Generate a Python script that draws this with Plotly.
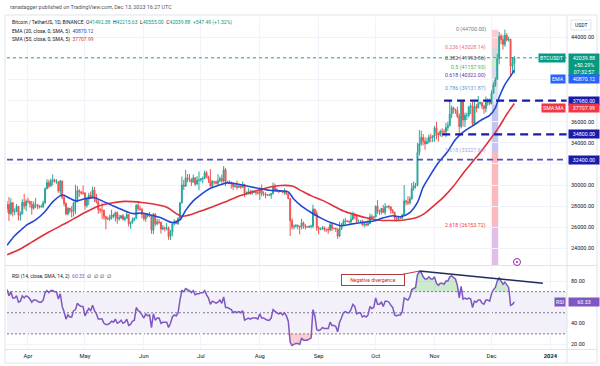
import numpy as np
import pandas as pd
import plotly.graph_objects as go

W, H = 600, 366

# ---------------- data ----------------
dates = pd.date_range("2023-03-21", "2023-12-13", freq="D")

opens = (
    [27770,28170,27300,28330,27470,27490,27990,27130,27260,28350,28030] +
    [28470,28450,28200,27800,28170,28170,28030,27920,27950,28330,29650,30230,29890,30390,30480,30310,30320,29430,30390,28820,28250,27270,27820,27590,27510,28300,28420,29470,29340,29250] +
    [29230,28070,28670,29030,28840,29530,28900,28430,27660,27630,27620,26990,26800,26780,26930,27170,27030,27400,26820,26880,27100,26750,26850,27220,26330,26480,26720,26870,28080,27740,27700] +
    [27210,26820,27250,27070,27120,25730,27230,26340,26500,26480,25840,25940,25900,25920,25120,25580,26330,26510,26340,26840,28310,30000,29890,30690,30550,30470,30270,30690,30080,30450] +
    [30470,30590,30620,31160,30770,30510,29900,30350,30290,30170,30410,30620,30380,31450,30310,30290,30230,30140,29860,29910,29800,29900,29790,30080,29180,29230,29350,29210,29310,29350,29280] +
    [29230,29700,29170,29180,29070,29040,29040,29180,29770,29560,29430,29400,29420,29280,29400,29170,28700,26620,26050,26100,26190,26120,26040,26430,26160,26060,26000,26090,26100,27720,27300] +
    [25940,25800,25870,25970,25810,25790,25750,26240,25900,25900,25840,25160,25840,26220,26530,26600,26570,26530,26760,27210,27130,26570,26580,26580,26250,26300,26220,26350,27030,26910] +
    [26970,27990,27500,27430,27790,27410,27930,27960,27920,27590,27390,26870,26760,26860,26850,27150,28500,28400,28320,28710,29680,29920,29990,33090,33900,34500,34150,33900,34090,34530,34490] +
    [34640,35420,34940,34730,35080,35050,35040,35420,35620,36700,37310,37130,37060,36500,35540,37880,36160,36590,36590,37390,37470,35810,37420,37290,37720,37800,37450,37240,37830,37860] +
    [37710,38690,39470,39980,41980,44080,43770,43290,44170,43720,43790,41240,41492.38]
)
highs = (
    [28480,28870,28750,28400,27800,28200,27990,27500,28650,29170,28650] +
    [28800,28530,28490,28440,28770,28190,28100,28170,28530,29770,30550,30490,30620,31000,30600,30550,30320,30480,30410,29090,28370,27880,27820,28000,28400,30020,29890,29600,29450,29960] +
    [29340,28880,29270,29380,29850,29820,29170,28650,27830,28320,27630,27090,27030,27200,27660,27300,27480,27490,27180,27150,27270,27050,27500,27220,26540,26930,26900,28200,28450,28050,27840] +
    [27350,27300,27340,27460,27130,27360,27360,26800,26780,26530,26200,26090,26430,26080,25750,26480,26770,26690,26960,28400,30800,30500,31430,31040,31040,30660,31000,30700,30840,31280] +
    [30660,30800,31380,31330,30880,31500,30450,30380,30440,31040,30800,30990,31800,31630,30390,30460,30340,30240,30190,30410,30060,29990,30350,30100,29380,29690,29580,29530,29410,29450,29530] +
    [29740,30050,29410,29320,29110,29170,29250,30240,30140,29700,29530,29470,29460,29680,29480,29220,28780,26840,26260,26290,26260,26130,26810,26560,26300,26100,26180,26250,28140,27760,27580] +
    [26130,25980,26120,26100,25880,26030,26440,26430,25940,25980,25880,26540,26400,26780,26890,26670,26630,27410,27490,27380,27160,26740,26630,26730,26430,26390,26840,27300,27230,27090] +
    [28070,28580,27670,27830,28120,28290,28000,28110,27990,27730,27480,26940,27100,26960,27290,30000,28610,28940,28930,30200,30340,30200,34000,35200,35130,34830,34500,34480,34770,34850,34720] +
    [35580,35980,34950,35260,35380,35290,35890,35980,37970,37530,37400,37220,37420,36770,37980,37930,36850,36850,37510,37750,37860,37860,37650,38420,37890,37830,37590,38380,38200,38170] +
    [38960,39700,40200,42420,44490,44300,44180,44700,44370,44040,43800,42100,42215.63]
)
lows = (
    [27380,26600,27150,27020,27160,27440,26650,26630,27250,27720,27530] +
    [28240,27870,27200,27660,27820,27710,27770,27880,27800,28170,29600,29690,29860,29970,30230,30130,29270,29100,28650,28010,27130,27130,27340,26940,27020,27250,28380,28880,29090,29090] +
    [27660,27870,28110,28680,28800,28380,28260,27280,27350,26780,26700,25810,26700,26600,26730,26850,26550,26350,26620,26810,26660,26550,26820,26080,25870,26340,26580,26800,27560,27570,26840] +
    [26610,26510,26920,26960,25390,25350,26120,26210,26290,25400,25720,25600,25710,24820,24800,25170,26170,26310,26250,26660,28260,29530,29810,30250,30300,29920,30230,29900,30050,29500] +
    [30320,30160,30560,30640,30200,29850,29700,30050,30070,29950,30270,30200,30250,29900,30250,30070,29660,29500,29760,29560,29720,29640,29730,28860,29030,29100,29070,29100,29250,29030,29100] +
    [28590,28920,28960,28750,28960,28960,28700,29110,29360,29330,29230,29360,29250,29100,29050,28700,25170,25800,25800,25970,25810,25350,25800,25860,25780,25970,25960,25880,25920,27050,25660] +
    [25330,25720,25770,25600,25560,25380,25610,25650,25800,25560,24900,25130,25760,26130,26230,26480,26400,26390,26670,26800,26360,26520,26500,26130,26000,26090,26120,26340,26660,26890] +
    [26950,27280,27160,27220,27350,27180,27840,27690,27260,27300,26560,26540,26690,26810,26800,27110,28100,28110,28170,28600,29470,29680,29880,32800,33700,33750,33330,33870,33940,34060,34070] +
    [34100,34320,34100,34580,34530,34730,34520,35120,35540,36330,36770,36730,36340,34800,35360,35530,35500,36150,36390,36700,35630,35670,36870,37250,37600,37150,36750,36870,37500,37550] +
    [37630,38650,39280,39980,41420,43340,42820,43080,43580,43560,40220,40680,40555.00]
)
closes = (
    [28170,27300,28330,27470,27490,27990,27130,27260,28350,28030,28470] +
    [28450,28200,27800,28170,28170,28030,27920,27950,28330,29650,30230,29890,30390,30480,30310,30320,29430,30390,28820,28250,27270,27820,27590,27510,28300,28420,29470,29340,29250,29230] +
    [28070,28670,29030,28840,29530,28900,28430,27660,27630,27620,26990,26800,26780,26930,27170,27030,27400,26820,26880,27100,26750,26850,27220,26330,26480,26720,26870,28080,27740,27700,27210] +
    [26820,27250,27070,27120,25730,27230,26340,26500,26480,25840,25940,25900,25920,25120,25580,26330,26510,26340,26840,28310,30000,29890,30690,30550,30470,30270,30690,30080,30450,30470] +
    [30590,30620,31160,30770,30510,29900,30350,30290,30170,30410,30620,30380,31450,30310,30290,30230,30140,29860,29910,29800,29900,29790,30080,29180,29230,29350,29210,29310,29350,29280,29230] +
    [29700,29170,29180,29070,29040,29040,29180,29770,29560,29430,29400,29420,29280,29400,29170,28700,26620,26050,26100,26190,26120,26040,26430,26160,26060,26000,26090,26100,27720,27300,25940] +
    [25800,25870,25970,25810,25790,25750,26240,25900,25900,25840,25160,25840,26220,26530,26600,26570,26530,26760,27210,27130,26570,26580,26580,26250,26300,26220,26350,27030,26910,26970] +
    [27990,27500,27430,27790,27410,27930,27960,27920,27590,27390,26870,26760,26860,26850,27150,28500,28400,28320,28710,29680,29920,29990,33090,33900,34500,34150,33900,34090,34530,34490,34640] +
    [35420,34940,34730,35080,35050,35040,35420,35620,36700,37310,37130,37060,36500,35540,37880,36160,36590,36590,37390,37470,35810,37420,37290,37720,37800,37450,37240,37830,37860,37710] +
    [38690,39470,39980,41980,44080,43770,43290,44170,43720,43790,41240,41490,42039.88]
)

rsi = (
    [72,66,70,64,64,66,60,61,66,64,66] +
    [65,63,60,62,62,61,60,60,62,69,71,69,71,71,70,70,63,68,56,51,44,48,46,46,52,53,59,57,56,56] +
    [47,51,54,52,57,52,49,44,44,44,40,39,39,40,42,41,44,40,41,43,40,41,44,38,39,42,43,55,52,51,48] +
    [45,49,47,48,36,49,43,45,45,40,41,41,41,36,40,46,48,47,50,62,71,70,73,72,71,69,71,67,68,68] +
    [69,69,71,67,64,58,61,60,59,60,62,59,65,55,55,54,53,50,51,50,51,50,52,43,44,45,44,45,45,45,44] +
    [49,45,45,44,43,43,45,53,51,50,49,50,48,50,47,42,22,19,20,21,21,20,26,24,24,24,25,26,53,47,34] +
    [33,34,36,35,35,35,41,38,38,37,32,41,45,50,51,50,50,53,58,56,49,50,50,46,47,46,48,56,54,55] +
    [64,58,58,60,56,61,61,60,57,55,48,47,48,48,51,64,63,62,65,72,73,74,86,89,88,84,82,82,84,82,82] +
    [84,78,76,78,78,77,80,80,84,85,83,82,76,64,75,63,64,63,64,63,55,61,60,62,62,59,58,62,62,61] +
    [68,72,74,80,83,80,77,79,76,74,57,58,60.33]
)

ema_dates = ["2023-03-21","2023-03-25","2023-03-28","2023-04-01","2023-04-05","2023-04-10","2023-04-14",
             "2023-04-19","2023-04-23","2023-04-26","2023-05-01","2023-05-06","2023-05-10","2023-05-15",
             "2023-05-20","2023-05-26","2023-05-31","2023-06-05","2023-06-10","2023-06-16","2023-06-20",
             "2023-06-23","2023-06-27","2023-07-01","2023-07-06","2023-07-10","2023-07-15","2023-07-20",
             "2023-07-24","2023-07-31","2023-08-06","2023-08-12","2023-08-16","2023-08-19","2023-08-23",
             "2023-08-28","2023-09-03","2023-09-08","2023-09-13","2023-09-18","2023-09-24","2023-09-30",
             "2023-10-05","2023-10-10","2023-10-14","2023-10-19","2023-10-23","2023-10-26","2023-10-30",
             "2023-11-03","2023-11-08","2023-11-12","2023-11-16","2023-11-21","2023-11-26","2023-11-30",
             "2023-12-03","2023-12-05","2023-12-08","2023-12-11","2023-12-13"]
ema_vals = [24300,25200,25700,26300,26700,27500,28400,
            29050,28750,28500,28700,28800,28500,28100,
            27700,27300,27350,27150,26900,26450,26700,
            27600,28500,29100,29700,29950,30200,30100,
            29950,29700,29500,29450,29350,28650,28000,
            27400,26800,26400,26150,26300,26450,26600,
            26900,27100,27000,27400,28350,29800,31000,
            32100,33200,34300,35000,35600,36200,36600,
            37300,38300,39500,40300,40870.12]

sma_dates = ["2023-03-21","2023-03-28","2023-04-03","2023-04-12","2023-04-22","2023-05-01","2023-05-08",
             "2023-05-15","2023-05-22","2023-05-31","2023-06-06","2023-06-13","2023-06-21","2023-07-01",
             "2023-07-08","2023-07-15","2023-07-22","2023-07-29","2023-08-05","2023-08-12","2023-08-18",
             "2023-08-23","2023-08-28","2023-09-03","2023-09-09","2023-09-14","2023-09-20","2023-09-26",
             "2023-10-02","2023-10-09","2023-10-16","2023-10-23","2023-10-27","2023-11-01","2023-11-06",
             "2023-11-11","2023-11-16","2023-11-21","2023-11-26","2023-12-01","2023-12-05","2023-12-09",
             "2023-12-13"]
sma_vals = [23400,23950,24600,25550,26500,27400,28000,
            28300,28450,28350,28200,27900,27050,27550,
            28000,28500,29000,29400,29750,29950,29900,
            29450,29000,28550,28000,27550,27200,26900,
            26700,26650,26700,26950,27350,28100,28900,
            29900,31100,32200,33300,34500,35500,36700,
            37707.99]

# horizontal support/resistance rays
level_prices = [37980, 34800, 32400]
level_starts = ["2023-11-06", "2023-11-05", "2023-03-20 23:00"]
level_labels = ["37980.00", "34800.00", "32400.00"]

# fibonacci retracement
fib_ratios = ["0", "0.236", "0.382", "0.5", "0.618", "0.786", "1", "1.618", "2.618", "3.618"]
fib_prices = [44700.00, 43028.14, 41993.86, 41157.93, 40322.00, 39131.87, 37615.86, 33227.60, 26153.72, 19069.00]
fib_x = ["2023-11-30 16:00", "2023-12-04 12:00"]

# RSI divergence trend line
div_x = ["2023-10-24", "2023-12-28"]
div_y = [89.5, 78.0]

month_ticks = ["2023-04-01","2023-05-01","2023-06-01","2023-07-01","2023-08-01","2023-09-01",
               "2023-10-01","2023-11-01","2023-12-01","2024-01-01"]
month_labels = ["Apr","May","Jun","Jul","Aug","Sep","Oct","Nov","Dec","<b>2024</b>"]
price_ticks = [24000,26000,28000,30000,32000,34000,36000,38000,40000,42000,44000]
price_tick_labels = ["24000.00","26000.00","28000.00","30000.00","","34000.00","36000.00","","","","44000.00"]
rsi_ticks = [20, 40, 60, 80]
rsi_tick_labels = ["20.00", "40.00", "", "80.00"]

# ---------------- styling ----------------
UP, DN = "#26a69a", "#ef5350"
EMA_C, SMA_C = "#2148d0", "#e0313b"
RSI_C = "#7e57c2"
NAVY = "#1b1bab"
FONT = "Roboto, Liberation Sans, Arial"
TXT = "#131722"
GRID = "#f0f3fa"

X_RANGE = ["2023-03-20 23:00", "2024-01-09 17:00"]
P_RANGE = [22388, 45896]
R_RANGE = [15.2, 94.3]

def xp(p):
    return p / W

def yp(p):
    return 1 - p / H

PL, PR = 7, 567          # plot area left/right in px
fig = go.Figure()

# ---- price pane ----
fig.add_trace(go.Candlestick(
    x=dates, open=opens, high=highs, low=lows, close=closes,
    increasing=dict(line=dict(color=UP, width=1), fillcolor=UP),
    decreasing=dict(line=dict(color=DN, width=1), fillcolor=DN),
    whiskerwidth=0, showlegend=False, hoverinfo="skip", xaxis="x", yaxis="y"))

fig.add_trace(go.Scatter(x=sma_dates, y=sma_vals, mode="lines",
                         line=dict(color=SMA_C, width=1.6, shape="spline", smoothing=0.8),
                         showlegend=False, hoverinfo="skip", xaxis="x", yaxis="y"))
fig.add_trace(go.Scatter(x=ema_dates, y=ema_vals, mode="lines",
                         line=dict(color=EMA_C, width=1.6, shape="spline", smoothing=0.8),
                         showlegend=False, hoverinfo="skip", xaxis="x", yaxis="y"))

# ---- RSI pane ----
rsi_arr = np.array(rsi, dtype=float)
fig.add_trace(go.Scatter(x=dates, y=[70] * len(dates), mode="lines", line=dict(width=0),
                         showlegend=False, hoverinfo="skip", xaxis="x2", yaxis="y2"))
fig.add_trace(go.Scatter(x=dates, y=np.maximum(rsi_arr, 70), mode="lines", line=dict(width=0),
                         fill="tonexty", fillcolor="rgba(76,175,80,0.28)",
                         showlegend=False, hoverinfo="skip", xaxis="x2", yaxis="y2"))
fig.add_trace(go.Scatter(x=dates, y=[30] * len(dates), mode="lines", line=dict(width=0),
                         showlegend=False, hoverinfo="skip", xaxis="x2", yaxis="y2"))
fig.add_trace(go.Scatter(x=dates, y=np.minimum(rsi_arr, 30), mode="lines", line=dict(width=0),
                         fill="tonexty", fillcolor="rgba(242,54,69,0.25)",
                         showlegend=False, hoverinfo="skip", xaxis="x2", yaxis="y2"))
fig.add_trace(go.Scatter(x=dates, y=rsi_arr, mode="lines", line=dict(color=RSI_C, width=1.5),
                         showlegend=False, hoverinfo="skip", xaxis="x2", yaxis="y2"))
fig.add_trace(go.Scatter(x=div_x, y=div_y, mode="lines", line=dict(color="#1e2d5c", width=1.5),
                         showlegend=False, hoverinfo="skip", xaxis="x2", yaxis="y2"))

shapes = []
# RSI band and guide lines
shapes.append(dict(type="rect", xref="x2 domain", yref="y2", x0=0, x1=1, y0=30, y1=70,
                   fillcolor="rgba(126,87,194,0.09)", line=dict(width=0), layer="below"))
for lv in (70, 50, 30):
    shapes.append(dict(type="line", xref="x2 domain", yref="y2", x0=0, x1=1, y0=lv, y1=lv,
                       line=dict(color="#787b86", width=1, dash="2px,2px"), layer="below"))

# fib boxes
fib_fill = ["rgba(242,54,69,0.25)", "rgba(120,123,134,0.30)", "rgba(76,175,80,0.28)",
            "rgba(120,90,200,0.25)", "rgba(120,123,134,0.25)", "rgba(100,150,220,0.25)",
            "rgba(80,90,220,0.35)", "rgba(242,54,69,0.35)", "rgba(156,39,176,0.30)"]
for i in range(len(fib_prices) - 1):
    shapes.append(dict(type="rect", xref="x", yref="y", x0=fib_x[0], x1=fib_x[1],
                       y0=fib_prices[i], y1=fib_prices[i + 1], fillcolor=fib_fill[i],
                       line=dict(width=0), layer="below"))

# current price dotted line
shapes.append(dict(type="line", xref="x domain", yref="y", x0=0, x1=1, y0=closes[-1], y1=closes[-1],
                   line=dict(color="#26a69a", width=1, dash="dot")))
# horizontal rays
for lp, ls in zip(level_prices, level_starts):
    is_full = lp == 32400
    shapes.append(dict(type="line", xref="x", yref="y", x0=ls, x1=X_RANGE[1], y0=lp, y1=lp,
                       line=dict(color="#5252bd" if is_full else NAVY, width=1.6 if is_full else 2.2,
                                 dash="6px,4px" if is_full else "8px,5px")))

# frame lines
frame = "#e0e3eb"
shapes.append(dict(type="rect", xref="paper", yref="paper", x0=xp(5), x1=xp(597), y0=yp(363), y1=yp(15),
                   line=dict(color=frame, width=1)))
shapes.append(dict(type="line", xref="paper", yref="paper", x0=xp(PR), x1=xp(PR), y0=yp(363), y1=yp(15),
                   line=dict(color=frame, width=1)))
shapes.append(dict(type="line", xref="paper", yref="paper", x0=xp(5), x1=xp(597), y0=yp(265.5), y1=yp(265.5),
                   line=dict(color=frame, width=1)))
shapes.append(dict(type="line", xref="paper", yref="paper", x0=xp(5), x1=xp(597), y0=yp(349.5), y1=yp(349.5),
                   line=dict(color=frame, width=1)))
# target icon
shapes.append(dict(type="circle", xref="paper", yref="paper", x0=xp(513.5), x1=xp(520.5), y0=yp(265.5), y1=yp(258.5),
                   line=dict(color="#9c27b0", width=1)))
shapes.append(dict(type="circle", xref="paper", yref="paper", x0=xp(516), x1=xp(518), y0=yp(263), y1=yp(261),
                   fillcolor="#9c27b0", line=dict(width=0)))
# USDT box
shapes.append(dict(type="rect", xref="paper", yref="paper", x0=xp(571), x1=xp(591), y0=yp(30), y1=yp(20),
                   line=dict(color=frame, width=1)))

ann = []

def text(x, y, t, size=5.5, color=TXT, xanchor="left", **kw):
    ann.append(dict(xref="paper", yref="paper", x=xp(x), y=yp(y), text=t, showarrow=False,
                    xanchor=xanchor, yanchor="middle", font=dict(size=size, color=color, family=FONT), **kw))

text(8, 7, "ranadagger published on TradingView.com, Dec 13, 2023 16:27 UTC", size=5.4, color="#50535e")
g = "#089981"
text(10, 23, ("Bitcoin / TetherUS, 1D, BINANCE  O<span style='color:%s'>%.2f</span>  H<span style='color:%s'>%.2f</span>"
              "  L<span style='color:%s'>%.2f</span>  C<span style='color:%s'>%.2f</span>  <span style='color:%s'>+547.49 (+1.32%%)</span>")
     % (g, opens[-1], g, highs[-1], g, lows[-1], g, closes[-1], g), size=5)
text(10, 31.5, "EMA (20, close, 0, SMA, 5)  <span style='color:%s'>%.2f</span>" % (EMA_C, ema_vals[-1]), size=5)
text(10, 39.5, "SMA (50, close, 0, SMA, 5)  <span style='color:%s'>%.2f</span>" % (SMA_C, sma_vals[-1]), size=5)
text(10, 276, "RSI (14, close, SMA, 14, 2)  <span style='color:%s'>%.2f</span>  ∅  ∅  ∅  ∅" % (RSI_C, rsi[-1]), size=5)
text(581, 25, "USDT", size=5, xanchor="center")

# fib labels
fib_label_col = ["#787b86", "#e57373", "#50535e", "#4caf50", "#5e35b1", "#5b9bd5", None, "#9fa8da", "#f23645", None]
for r, p, c in zip(fib_ratios, fib_prices, fib_label_col):
    if c is None:
        continue
    ann.append(dict(xref="x", yref="y", x=fib_x[0], y=p, text="%s (%.2f)" % (r, p), showarrow=False,
                    xanchor="right", yanchor="middle", xshift=-3, font=dict(size=5.3, color=c, family=FONT)))

def axis_box(y, t, bg, yref="y", yshift=0, width=28, fc="white", yanchor="middle"):
    ann.append(dict(xref="paper", yref=yref, x=xp(PR + 0.5), y=y, text=t, showarrow=False, xanchor="left",
                    yanchor=yanchor, yshift=yshift, bgcolor=bg, width=width, borderpad=1, align="center",
                    font=dict(size=5.3, color=fc, family=FONT)))

def tag(y, t, bg, yref="y", yshift=0, yanchor="middle"):
    ann.append(dict(xref="paper", yref=yref, x=xp(PR - 1), y=y, text=t, showarrow=False, xanchor="right",
                    yanchor=yanchor, yshift=yshift, bgcolor=bg, borderpad=1,
                    font=dict(size=5.3, color="white", family=FONT)))

axis_box(closes[-1], "%.2f<br>+50.29%%<br>07:32:57" % closes[-1], "#089981", yshift=5, yanchor="top")
tag(closes[-1], "BTCUSDT", "#089981")
axis_box(ema_vals[-1], "%.2f" % ema_vals[-1], "#2962ff", yshift=-9)
tag(ema_vals[-1], "EMA", "#2962ff", yshift=-9)
for lp, lt in zip(level_prices, level_labels):
    axis_box(lp, lt, NAVY)
axis_box(sma_vals[-1], "%.2f" % sma_vals[-1], "#f23645", yshift=-4.5)
tag(sma_vals[-1], "SMA:MA", "#f23645", yshift=-4.5)
axis_box(rsi[-1], "%.2f" % rsi[-1], RSI_C, yref="y2")
tag(rsi[-1], "RSI", RSI_C, yref="y2")

# divergence callout
ann.append(dict(xref="x2", yref="y2", x=div_x[0], y=div_y[0], text="Negative divergence", showarrow=True,
                arrowhead=0, arrowwidth=1, arrowcolor="#b23a3a", ax=-46, ay=9, bgcolor="white",
                bordercolor="#b23a3a", borderwidth=1, borderpad=2, width=58,
                font=dict(size=5, color="#c62828", family=FONT)))

axis_common = dict(showline=False, zeroline=False, ticks="", gridcolor=GRID, gridwidth=1)
fig.update_layout(
    width=W, height=H, margin=dict(l=0, r=0, t=0, b=0),
    paper_bgcolor="white", plot_bgcolor="white", showlegend=False,
    font=dict(family=FONT, color=TXT),
    xaxis=dict(domain=[xp(PL), xp(PR)], anchor="y", range=X_RANGE, type="date",
               tickvals=month_ticks, showticklabels=False, rangeslider=dict(visible=False), **axis_common),
    yaxis=dict(domain=[yp(265.5), yp(17)], anchor="x", side="right", range=P_RANGE,
               tickvals=price_ticks, ticktext=price_tick_labels, ticklabelstandoff=3,
               tickfont=dict(size=5.5, color=TXT), **axis_common),
    xaxis2=dict(domain=[xp(PL), xp(PR)], anchor="y2", range=X_RANGE, type="date",
                tickvals=month_ticks, ticktext=month_labels, ticklabelstandoff=2,
                tickfont=dict(size=5.8, color=TXT), **axis_common),
    yaxis2=dict(domain=[yp(349.5), yp(266)], anchor="x2", side="right", range=R_RANGE,
                tickvals=rsi_ticks, ticktext=rsi_tick_labels, ticklabelstandoff=3,
                tickfont=dict(size=5.5, color=TXT), **axis_common),
    shapes=shapes, annotations=ann,
)

fig.write_html("out.html", config={"displayModeBar": False},
               post_script="document.body.style.margin='0';document.body.style.overflow='hidden';")
